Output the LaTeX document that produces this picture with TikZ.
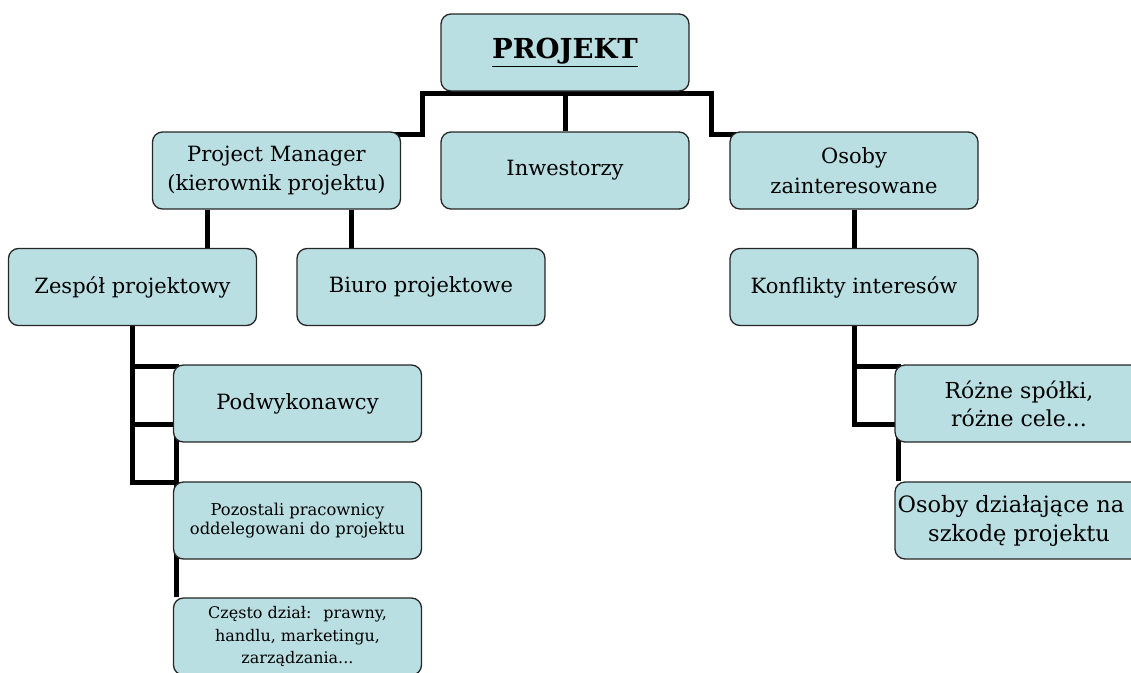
\documentclass[tikz,border=0pt]{standalone}
\usepackage{fontspec}
\setmainfont{DejaVu Serif}
\usetikzlibrary{backgrounds}
\definecolor{boxfill}{RGB}{186,223,226}
\tikzset{
  box/.style={draw=black!85,line width=1.3pt,fill=boxfill,rounded corners=10pt,
    minimum width=248pt,minimum height=77pt,align=center,inner sep=0pt,
    font=\fontsize{21}{29.5}\selectfont},
  link/.style={line width=5pt}
}
\begin{document}
\begin{tikzpicture}[x=1pt,y=-1pt]
\useasboundingbox (0,0) rectangle (1131,672);
\clip (0,0) rectangle (1131,672);
\node[box,font=\fontsize{27.5}{32}\selectfont\bfseries] (projekt) at (565,52.5) {\underline{PROJEKT}};
\node[box] (pm) at (276.5,170.5) {Project Manager\\(kierownik projektu)};
\node[box] (inw) at (565,170.5) {Inwestorzy};
\node[box] (osoby) at (854,170.5) {Osoby\\zainteresowane};
\node[box] (zespol) at (132.5,287) {Zespół projektowy};
\node[box] (biuro) at (421,287) {Biuro projektowe};
\node[box] (konf) at (854,287) {Konflikty interesów};
\node[box] (podw) at (297.5,403.5) {Podwykonawcy};
\node[box,font=\fontsize{16.3}{19.5}\selectfont] (pozost) at (297.5,520.5) {Pozostali pracownicy\\oddelegowani do projektu};
\node[box,font=\fontsize{16}{22.5}\selectfont] (czesto) at (297.5,636.5) {Często dział:~ prawny,\\handlu, marketingu,\\zarządzania...};
\node[box,font=\fontsize{22}{28}\selectfont] (rozne) at (1019,403.5) {Różne spółki,\\różne cele...};
\node[box,font=\fontsize{22.5}{29}\selectfont] (dzial) at (1019,520.5) {Osoby działające na\hspace*{16pt}\\szkodę projektu};
\begin{scope}[on background layer]
\draw[link] ([xshift=-30pt,yshift=-3pt]pm.north east) -| ([xshift=-18pt,yshift=-2pt]projekt.south west)
  -- ([xshift=22pt,yshift=-2pt]projekt.south east) |- ([xshift=30pt,yshift=-3pt]osoby.north west);
\draw[link] (projekt) -- (inw);
\draw[link] ([xshift=-69.5pt]pm.south) -- ([xshift=74.5pt]zespol.north);
\draw[link] ([xshift=74.5pt]pm.south) -- ([xshift=-70pt]biuro.north);
\draw[link] (osoby) -- (konf);
\foreach \c/\h in {podw/-2,pozost/57,czesto/115}
  \draw[link] (zespol.south) |- ([xshift=4pt,yshift=\h pt]\c.north west) -- ([xshift=4pt]\c.north west);
\foreach \c/\h in {rozne/-2,dzial/57}
  \draw[link] (konf.south) |- ([xshift=4pt,yshift=\h pt]\c.north west) -- ([xshift=4pt]\c.north west);
\end{scope}
\end{tikzpicture}
\end{document}
